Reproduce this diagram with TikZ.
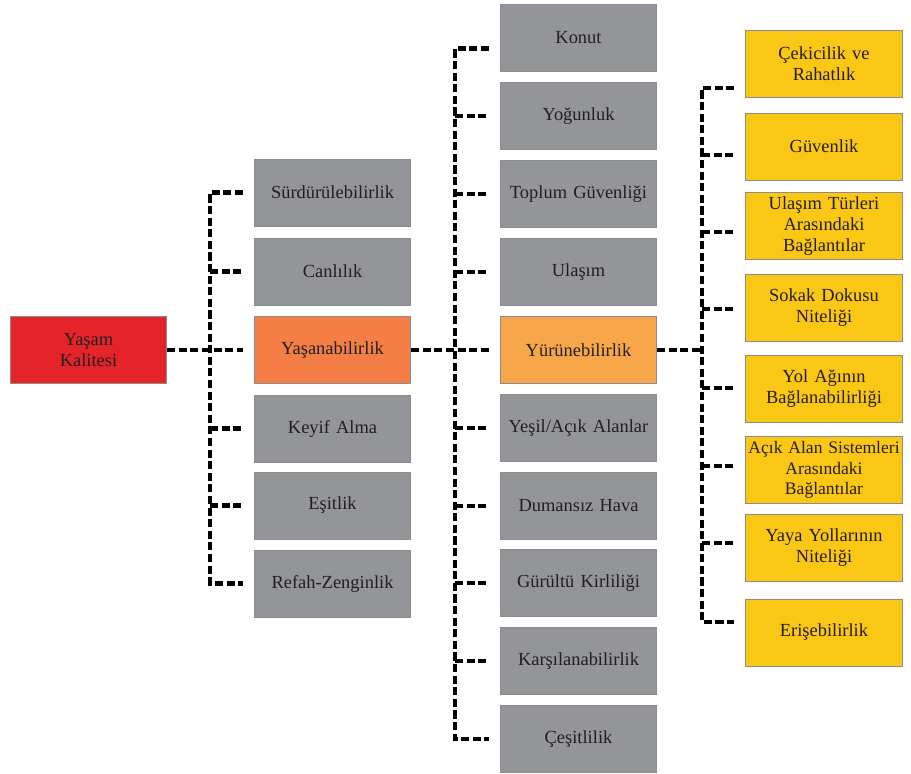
\documentclass[tikz,border=0pt]{standalone}
\usepackage{fontspec}
\setmainfont{Liberation Serif}
\definecolor{kirmizi}{HTML}{E52429}
\definecolor{turuncu}{HTML}{F47E45}
\definecolor{acikturuncu}{HTML}{F7A64A}
\definecolor{gri}{HTML}{939598}
\definecolor{sari}{HTML}{FBC715}
\definecolor{metin}{HTML}{231F20}
\tikzset{
  kutu/.style={draw=black!45, line width=0.5pt, minimum width=3.13cm, minimum height=1.34cm,
    text width=3.05cm, align=center, inner sep=1pt, text=metin, font=\fontsize{10.5}{12}\selectfont},
  grikutu/.style={kutu, fill=gri},
  sarikutu/.style={kutu, fill=sari},
  bag/.style={line width=2.5pt, dash pattern=on 4.6pt off 2pt}
}
\begin{document}
\begin{tikzpicture}[x=0.02cm,y=-0.02cm]
\useasboundingbox (0,0) rectangle (911,773);
% first level
\node[kutu, fill=kirmizi] (yk) at (88.5,350) {Yaşam\\Kalitesi};
% second level
\node[grikutu] (s1) at (332.5,192.5) {Sürdürülebilirlik};
\node[grikutu] (s2) at (332.5,271.5) {Canlılık};
\node[kutu, fill=turuncu] (s3) at (332.5,350) {Yaşanabilirlik};
\node[grikutu] (s4) at (332.5,428.5) {Keyif Alma};
\node[grikutu] (s5) at (332.5,505.5) {Eşitlik};
\node[grikutu] (s6) at (332.5,583.5) {Refah-Zenginlik};
% third level
\node[grikutu] (k1) at (578.5,37.5) {Konut};
\node[grikutu] (k2) at (578.5,116) {Yoğunluk};
\node[grikutu] (k3) at (578.5,194) {Toplum Güvenliği};
\node[grikutu] (k4) at (578.5,272) {Ulaşım};
\node[kutu, fill=acikturuncu] (k5) at (578.5,350) {Yürünebilirlik};
\node[grikutu] (k6) at (578.5,428) {Yeşil/Açık Alanlar};
\node[grikutu] (k7) at (578.5,506) {Dumansız Hava};
\node[grikutu] (k8) at (578.5,583) {Gürültü Kirliliği};
\node[grikutu] (k9) at (578.5,661) {Karşılanabilirlik};
\node[grikutu] (k10) at (578.5,739) {Çeşitlilik};
% fourth level
\node[sarikutu] (y1) at (824,63.5) {Çekicilik ve\\Rahatlık};
\node[sarikutu] (y2) at (824,146.5) {Güvenlik};
\node[sarikutu] (y3) at (824,226) {Ulaşım Türleri\\Arasındaki\\Bağlantılar};
\node[sarikutu] (y4) at (824,307.5) {Sokak Dokusu\\Niteliği};
\node[sarikutu] (y5) at (824,388.5) {Yol Ağının\\Bağlanabilirliği};
\node[sarikutu, font=\fontsize{10}{11.5}\selectfont] (y6) at (824,470) {Açık Alan Sistemleri\\Arasındaki\\Bağlantılar};
\node[sarikutu] (y7) at (824,547.5) {Yaya Yollarının\\Niteliği};
\node[sarikutu] (y8) at (824,632.5) {Erişebilirlik};
% junctions and branch ends
\coordinate (j1) at (210,350);
\coordinate (j2) at (455,350);
\coordinate (j3) at (702,350);
\coordinate (k1u) at ([shift={(-11,11)}]k1.west);
\coordinate (y1u) at ([shift={(-11,24.5)}]y1.west);
\coordinate (y2u) at ([shift={(-11,8.5)}]y2.west);
\coordinate (y3u) at ([shift={(-11,6)}]y3.west);
\coordinate (y4u) at ([shift={(-11,1.5)}]y4.west);
\coordinate (y5u) at ([shift={(-11,-0.5)}]y5.west);
\coordinate (y6u) at ([shift={(-11,-4)}]y6.west);
\coordinate (y7u) at ([shift={(-11,-4.5)}]y7.west);
\coordinate (y8u) at ([shift={(-11,-10.5)}]y8.west);
% connectors
\draw[bag] (yk.east) -- ([xshift=-0.22cm]s3.west);
\draw[bag] ([xshift=-0.22cm]s1.west) -| (j1) |- ([xshift=-0.22cm]s6.west);
\draw[bag] (j1 |- s2.west) -- ([xshift=-0.22cm]s2.west);
\draw[bag] (j1 |- s4.west) -- ([xshift=-0.22cm]s4.west);
\draw[bag] (j1 |- s5.west) -- ([xshift=-0.22cm]s5.west);
\draw[bag] (s3.east) -- ([xshift=-0.22cm]k5.west);
\draw[bag] (k1u) -| (j2) |- ([xshift=-0.22cm]k10.west);
\draw[bag] (j2 |- k2.west) -- ([xshift=-0.22cm]k2.west);
\draw[bag] (j2 |- k3.west) -- ([xshift=-0.22cm]k3.west);
\draw[bag] (j2 |- k4.west) -- ([xshift=-0.22cm]k4.west);
\draw[bag] (j2 |- k6.west) -- ([xshift=-0.22cm]k6.west);
\draw[bag] (j2 |- k7.west) -- ([xshift=-0.22cm]k7.west);
\draw[bag] (j2 |- k8.west) -- ([xshift=-0.22cm]k8.west);
\draw[bag] (j2 |- k9.west) -- ([xshift=-0.22cm]k9.west);
\draw[bag] (k5.east) -- (j3);
\draw[bag] (y1u) -| (j3) |- (y8u);
\draw[bag] (j3 |- y2u) -- (y2u);
\draw[bag] (j3 |- y3u) -- (y3u);
\draw[bag] (j3 |- y4u) -- (y4u);
\draw[bag] (j3 |- y5u) -- (y5u);
\draw[bag] (j3 |- y6u) -- (y6u);
\draw[bag] (j3 |- y7u) -- (y7u);
\end{tikzpicture}
\end{document}
